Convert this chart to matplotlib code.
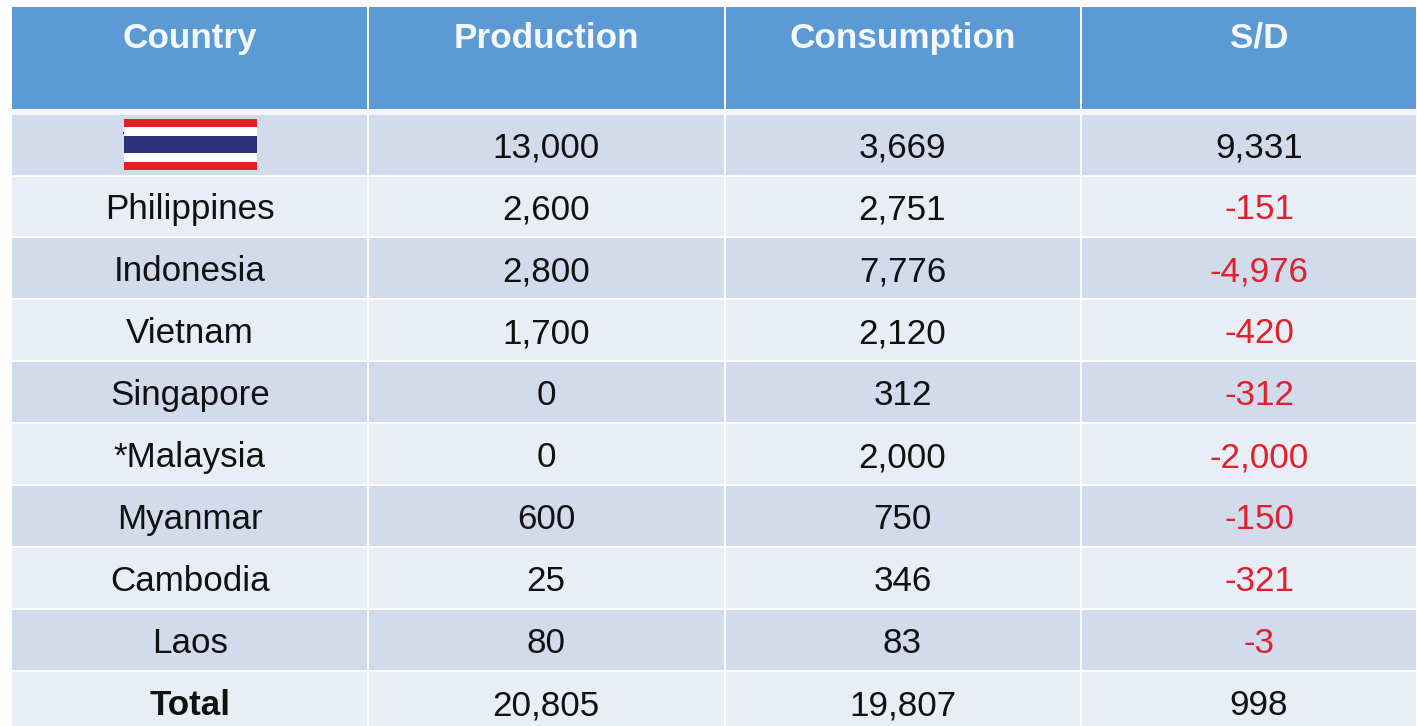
import matplotlib
matplotlib.use('Agg')
import matplotlib.pyplot as plt
from matplotlib.patches import Rectangle

headers = ['Country', 'Production', 'Consumption', 'S/D']
countries = ['', 'Philippines', 'Indonesia', 'Vietnam', 'Singapore', '*Malaysia',
             'Myanmar', 'Cambodia', 'Laos', 'Total']
production = ['13,000', '2,600', '2,800', '1,700', '0', '0', '600', '25', '80', '20,805']
consumption = ['3,669', '2,751', '7,776', '2,120', '312', '2,000', '750', '346', '83', '19,807']
balance = ['9,331', '-151', '-4,976', '-420', '-312', '-2,000', '-150', '-321', '-3', '998']

# layout in image pixels
col_edges = [12, 367.5, 724.5, 1080.5, 1417]
row_tops = [115, 177, 238, 300, 362, 424, 486, 548, 610, 672]
row_bottoms = [175, 236, 298, 360, 422, 484, 546, 608, 670, 726]
flag_stripes = [(119, 127, '#e01f26'), (127, 136, '#ffffff'), (136, 153, '#2b3377'),
                (153, 161.5, '#ffffff'), (161.5, 170, '#e01f26')]

plt.rcParams['font.family'] = ['Liberation Sans', 'DejaVu Sans']
fig = plt.figure(figsize=(14.17, 7.26), dpi=100, facecolor='#fdfdfe')
ax = fig.add_axes([0, 0, 1, 1])
ax.set_xlim(0, 1417)
ax.set_ylim(726, 0)
ax.axis('off')

centers = [(col_edges[i] + col_edges[i + 1]) / 2 for i in range(4)]
centers[3] = 1259

for i, h in enumerate(headers):
    x0 = col_edges[i] + (1 if i else 0)
    ax.add_patch(Rectangle((x0, 7), col_edges[i + 1] - x0 - 1, 102, fc='#5b9ad4', ec='none'))
    ax.text(centers[i], 48, h, color='#f4f8fc', fontsize=25.3, fontweight='bold',
            ha='center', va='baseline')
ax.add_patch(Rectangle((12, 109), 1405, 6, fc='#f3f6fb', ec='none'))

for r in range(len(countries)):
    band = '#d2dbec' if r % 2 == 0 else '#e9eef6'
    cells = [countries[r], production[r], consumption[r], balance[r]]
    for c in range(4):
        x0 = col_edges[c] + (1 if c else 0)
        ax.add_patch(Rectangle((x0, row_tops[r]), col_edges[c + 1] - x0 - 1,
                               row_bottoms[r] - row_tops[r], fc=band, ec='none'))
        color = '#e0202c' if c == 3 and cells[c].startswith('-') else '#111111'
        bold = c == 0 and r == len(countries) - 1
        ax.text(centers[c], 157 + 62.0 * r, cells[c], color=color,
                fontsize=25.2, fontweight='bold' if bold else 'normal',
                ha='center', va='baseline')

# flag in the first row, with the small speck at its left edge
for y0, y1, col in flag_stripes:
    ax.add_patch(Rectangle((124, y0), 133, y1 - y0, fc=col, ec='none', zorder=3))
ax.add_patch(Rectangle((122.5, 132), 1.5, 2, fc='#333333', ec='none', zorder=3))

fig.savefig('out.png', dpi=100, facecolor=fig.get_facecolor())
